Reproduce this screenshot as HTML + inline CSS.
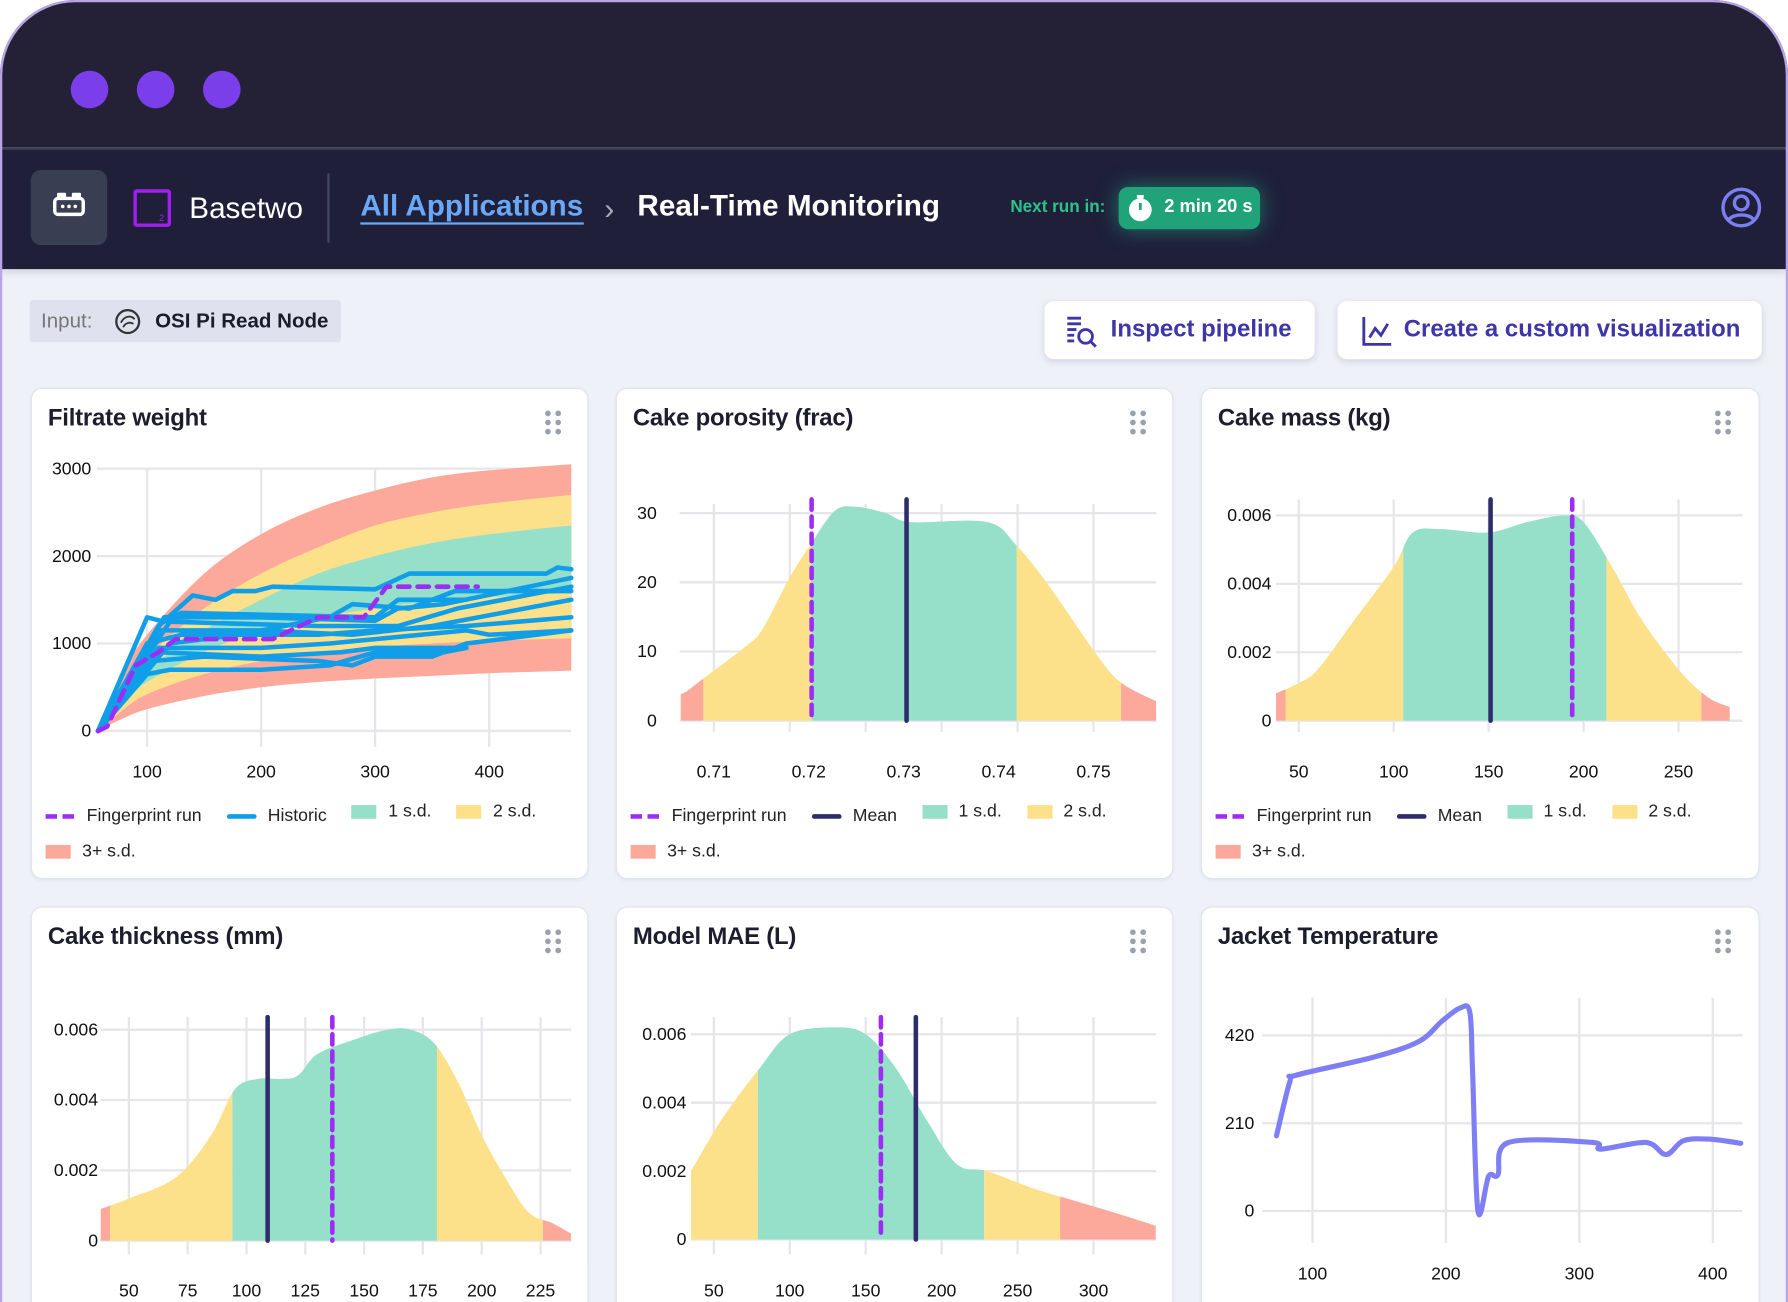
<!DOCTYPE html>
<html><head><meta charset="utf-8">
<style>
*{box-sizing:border-box;margin:0;padding:0}
html,body{width:1788px;height:1302px;overflow:hidden;background:#fff;font-family:"Liberation Sans",sans-serif}
#wrap{position:absolute;left:0;top:0;width:1568px;height:1142px;transform:scale(1.14031);transform-origin:0 0;overflow:hidden}
#frame{position:absolute;left:0;top:0;width:1568px;height:1142px;border-radius:66px 66px 0 0;overflow:hidden;background:#eff1f9}
#frameborder{position:absolute;left:0;top:0;width:1568px;height:1142px;border-radius:66px 66px 0 0;border:2px solid #b8a4e8;border-bottom:none;pointer-events:none}
.abs{position:absolute}
.card{position:absolute;background:#fff;border:1.5px solid #e2e4ec;border-radius:10px;box-shadow:0 1px 3px rgba(40,40,80,.06)}
.ctitle{position:absolute;left:14px;top:14px;font-size:21px;font-weight:bold;color:#1d1d2e;letter-spacing:-.2px}
.drag{position:absolute;width:14px;height:22px}
.drag i{position:absolute;width:5px;height:5px;border-radius:50%;background:#9aa0ad}
.leg{position:absolute;font-size:15.5px;color:#222;white-space:nowrap}
.leg span{display:inline-flex;align-items:center;margin-right:22px}
.sw{display:inline-block;width:22px;height:12px;margin-right:10px}
.ln{display:inline-block;width:26px;height:4px;border-radius:2px;margin-right:10px}
.dash{display:inline-block;width:26px;height:4px;margin-right:10px;background:repeating-linear-gradient(90deg,#9d2cf5 0 10px,transparent 10px 15px)}
svg text{font-family:"Liberation Sans",sans-serif;font-size:15.5px;fill:#111}
</style></head><body>
<div id="wrap">
<div id="frame">
  <div class="abs" style="left:0;top:0;width:1568px;height:129px;background:#242136"></div>
  <div class="abs" style="left:62px;top:62px;width:33px;height:33px;border-radius:50%;background:#7a3eea"></div>
  <div class="abs" style="left:120px;top:62px;width:33px;height:33px;border-radius:50%;background:#7a3eea"></div>
  <div class="abs" style="left:178px;top:62px;width:33px;height:33px;border-radius:50%;background:#7a3eea"></div>
  <div class="abs" style="left:0;top:129px;width:1568px;height:2px;background:#3f4356"></div>
  <div class="abs" style="left:0;top:131px;width:1568px;height:105px;background:#1f1f3a;box-shadow:0 2px 8px rgba(0,0,0,.15)"></div>
  <div class="abs" style="left:27px;top:149px;width:67px;height:66px;border-radius:9px;background:#3a3e52">
    <svg width="67" height="66"><rect x="21" y="25" width="25" height="14" rx="3" fill="none" stroke="#fff" stroke-width="3"/><rect x="23" y="20" width="8" height="6" rx="1" fill="#fff"/><rect x="36" y="20" width="8" height="6" rx="1" fill="#fff"/><circle cx="28" cy="32" r="1.6" fill="#fff"/><circle cx="33.5" cy="32" r="1.6" fill="#fff"/><circle cx="39" cy="32" r="1.6" fill="#fff"/></svg>
  </div>
  <div class="abs" style="left:117px;top:166px;width:33px;height:33px;border:3px solid #a020f0;border-radius:3px"><span style="position:absolute;right:3px;bottom:0;font-size:8px;color:#a020f0">2</span></div>
  <div class="abs" style="left:166px;top:167px;font-size:26px;color:#fff">Basetwo</div>
  <div class="abs" style="left:287px;top:152px;width:2px;height:61px;background:#44475c"></div>
  <div class="abs" style="left:316px;top:165px;font-size:26px;color:#6aa8f5;font-weight:bold;border-bottom:2px solid #6aa8f5;line-height:30px">All Applications</div>
  <div class="abs" style="left:530px;top:168px;font-size:26px;color:#aab;">&#8250;</div>
  <div class="abs" style="left:559px;top:165px;font-size:26px;color:#fff;font-weight:bold;line-height:30px">Real-Time Monitoring</div>
  <div class="abs" style="left:886px;top:173px;font-size:15px;color:#2bc48a;font-weight:bold">Next run in:</div>
  <div class="abs" style="left:981px;top:164px;width:124px;height:37px;border-radius:8px;background:#21a37a;box-shadow:0 0 18px rgba(33,190,140,.55)">
    <svg class="abs" style="left:6px;top:5px" width="28" height="28"><circle cx="13" cy="15" r="10" fill="#fff"/><rect x="10" y="2" width="6" height="3" fill="#fff"/><path d="M13 15V9" stroke="#21a37a" stroke-width="2.5"/></svg>
    <span class="abs" style="left:40px;top:9px;font-size:16px;color:#fff;font-weight:bold">2 min 20 s</span>
  </div>
  <svg class="abs" style="left:1508px;top:163px" width="38" height="38"><circle cx="19" cy="19" r="16" fill="none" stroke="#7b7ff0" stroke-width="3"/><circle cx="19" cy="15" r="6" fill="none" stroke="#7b7ff0" stroke-width="3"/><path d="M8 30c3-6 19-6 22 0" fill="none" stroke="#7b7ff0" stroke-width="3"/></svg>

  <div class="abs" style="left:26px;top:263px;width:273px;height:37px;background:#dfe2ee;border-radius:3px">
    <span class="abs" style="left:10px;top:8px;font-size:18px;color:#777">Input:</span>
    <svg class="abs" style="left:73px;top:6px" width="26" height="26"><circle cx="13" cy="13" r="10" fill="none" stroke="#333" stroke-width="2"/><path d="M7 14c3-6 9-7 12-3M9 18c2-4 6-5 9-3" fill="none" stroke="#333" stroke-width="1.6"/></svg>
    <span class="abs" style="left:110px;top:8px;font-size:18px;color:#1b1b2b;font-weight:bold">OSI Pi Read Node</span>
  </div>
  <div class="abs" style="left:916px;top:264px;width:237px;height:51px;background:#fff;border-radius:8px;box-shadow:0 2px 6px rgba(60,60,100,.18)">
    <svg class="abs" style="left:18px;top:12px" width="30" height="30"><path d="M2 3h12M2 8h12M2 13h8M2 18h6M2 23h6" stroke="#3d35a8" stroke-width="2.5"/><circle cx="18" cy="19" r="6" fill="none" stroke="#3d35a8" stroke-width="2.5"/><path d="M22 23l5 5" stroke="#3d35a8" stroke-width="2.5"/></svg>
    <span class="abs" style="left:58px;top:13px;font-size:21px;color:#3d35a8;font-weight:bold">Inspect pipeline</span>
  </div>
  <div class="abs" style="left:1173px;top:264px;width:372px;height:51px;background:#fff;border-radius:8px;box-shadow:0 2px 6px rgba(60,60,100,.18)">
    <svg class="abs" style="left:20px;top:12px" width="30" height="30"><path d="M3 2v24h24" fill="none" stroke="#3d35a8" stroke-width="2.5"/><path d="M8 20l5-8 5 6 6-10" fill="none" stroke="#3d35a8" stroke-width="2.5"/></svg>
    <span class="abs" style="left:58px;top:13px;font-size:21px;color:#3d35a8;font-weight:bold">Create a custom visualization</span>
  </div>

  <div class="card" style="left:27px;top:340px;width:489px;height:431px"><div class="ctitle">Filtrate weight</div></div>
  <div class="card" style="left:540px;top:340px;width:489px;height:431px"><div class="ctitle">Cake porosity (frac)</div></div>
  <div class="card" style="left:1053px;top:340px;width:490px;height:431px"><div class="ctitle">Cake mass (kg)</div></div>
  <div class="card" style="left:27px;top:795px;width:489px;height:400px"><div class="ctitle">Cake thickness (mm)</div></div>
  <div class="card" style="left:540px;top:795px;width:489px;height:400px"><div class="ctitle">Model MAE (L)</div></div>
  <div class="card" style="left:1053px;top:795px;width:490px;height:400px"><div class="ctitle">Jacket Temperature</div></div>

  <div class="drag" style="left:478px;top:360px"><i style="left:0;top:0"></i><i style="left:9px;top:0"></i><i style="left:0;top:8px"></i><i style="left:9px;top:8px"></i><i style="left:0;top:16px"></i><i style="left:9px;top:16px"></i></div>
  <div class="drag" style="left:991px;top:360px"><i style="left:0;top:0"></i><i style="left:9px;top:0"></i><i style="left:0;top:8px"></i><i style="left:9px;top:8px"></i><i style="left:0;top:16px"></i><i style="left:9px;top:16px"></i></div>
  <div class="drag" style="left:1504px;top:360px"><i style="left:0;top:0"></i><i style="left:9px;top:0"></i><i style="left:0;top:8px"></i><i style="left:9px;top:8px"></i><i style="left:0;top:16px"></i><i style="left:9px;top:16px"></i></div>
  <div class="drag" style="left:478px;top:815px"><i style="left:0;top:0"></i><i style="left:9px;top:0"></i><i style="left:0;top:8px"></i><i style="left:9px;top:8px"></i><i style="left:0;top:16px"></i><i style="left:9px;top:16px"></i></div>
  <div class="drag" style="left:991px;top:815px"><i style="left:0;top:0"></i><i style="left:9px;top:0"></i><i style="left:0;top:8px"></i><i style="left:9px;top:8px"></i><i style="left:0;top:16px"></i><i style="left:9px;top:16px"></i></div>
  <div class="drag" style="left:1504px;top:815px"><i style="left:0;top:0"></i><i style="left:9px;top:0"></i><i style="left:0;top:8px"></i><i style="left:9px;top:8px"></i><i style="left:0;top:16px"></i><i style="left:9px;top:16px"></i></div>

  <div class="leg" style="left:40px;top:703px">
    <span><i class="dash"></i>Fingerprint run</span><span><i class="ln" style="background:#109ee8"></i>Historic</span><span><i class="sw" style="background:#96dfc9"></i>1 s.d.</span><span><i class="sw" style="background:#fde18a"></i>2 s.d.</span><br><span style="margin-top:13px"><i class="sw" style="background:#fca89a"></i>3+ s.d.</span>
  </div>
  <div class="leg" style="left:553px;top:703px">
    <span><i class="dash"></i>Fingerprint run</span><span><i class="ln" style="background:#2e2d6b"></i>Mean</span><span><i class="sw" style="background:#96dfc9"></i>1 s.d.</span><span><i class="sw" style="background:#fde18a"></i>2 s.d.</span><br><span style="margin-top:13px"><i class="sw" style="background:#fca89a"></i>3+ s.d.</span>
  </div>
  <div class="leg" style="left:1066px;top:703px">
    <span><i class="dash"></i>Fingerprint run</span><span><i class="ln" style="background:#2e2d6b"></i>Mean</span><span><i class="sw" style="background:#96dfc9"></i>1 s.d.</span><span><i class="sw" style="background:#fde18a"></i>2 s.d.</span><br><span style="margin-top:13px"><i class="sw" style="background:#fca89a"></i>3+ s.d.</span>
  </div>

  <svg id="charts" class="abs" style="left:0;top:0" width="1568" height="1142"></svg>
</div>
<div id="frameborder"></div>
</div>
<script>
// ---------- Chart 1: Filtrate weight ----------
const fwBandX = [57,75,100,150,200,250,300,350,400,472];
const fwTop3 = [0,600,1100,1800,2250,2550,2750,2900,2980,3050];
const fwTop2 = [0,450,850,1400,1800,2100,2350,2500,2600,2700];
const fwTop1 = [0,350,700,1150,1500,1800,2000,2150,2250,2350];
const fwBot1 = [0,280,560,900,1150,1300,1400,1480,1530,1580];
const fwBot2 = [0,200,420,650,800,900,960,1000,1030,1060];
const fwBot3 = [0,120,250,400,500,560,600,630,660,690];
const fwHistoric = [
 [[57,0],[100,1300],[115,1250],[130,1350],[300,1300],[320,1500],[380,1500]],
 [[57,0],[110,1200],[140,1550],[160,1500],[175,1600],[195,1600],[210,1650],[300,1620],[330,1800],[450,1800],[460,1870],[472,1850]],
 [[57,0],[115,1300],[200,1300],[300,1260],[320,1400],[360,1450],[472,1750]],
 [[57,0],[120,1250],[250,1200],[320,1200],[372,1400],[472,1650]],
 [[57,0],[110,1150],[200,1150],[280,1100],[350,1200],[472,1500]],
 [[57,0],[100,1000],[130,1100],[250,1100],[300,1150],[380,1200],[472,1300]],
 [[57,0],[110,950],[200,950],[260,1000],[300,1050],[380,1150],[400,1100],[472,1150]],
 [[57,0],[110,900],[200,850],[270,900],[300,950],[380,950]],
 [[57,0],[105,800],[150,850],[250,800],[280,750],[300,850],[350,850],[380,1000],[472,1150]],
 [[57,0],[100,650],[120,700],[200,700],[260,750],[300,900],[360,900],[380,950]],
 [[57,0],[120,1000],[180,1100],[260,1300],[280,1450],[330,1400],[370,1600],[472,1600]]
];
const fwFingerprint = [[57,0],[65,50],[90,750],[110,900],[125,1050],[210,1050],[250,1300],[290,1300],[310,1650],[390,1650]];
const fwXTicks = [100,200,300,400];
const fwYTicks = [0,1000,2000,3000];

// ---------- Chart 2: Cake porosity ----------
const poX = [0.7065,0.7072,0.7089,0.7136,0.7152,0.7180,0.7203,0.7228,0.7251,0.7281,0.7308,0.7388,0.7419,0.7453,0.7503,0.7529,0.7566];
const poY = [3.8,4.3,6.1,11.0,13.4,20.7,25.7,30.4,30.9,30.0,28.7,28.7,25.3,19.5,9.6,5.5,2.8];
const poBands = [0.7065,0.7089,0.7203,0.7419,0.7529,0.7566];
const poMean = 0.7303;
const poFingerprint = 0.7203;
const poXTicks = [0.71,0.72,0.73,0.74,0.75];
const poXGrid = [0.71,0.718,0.726,0.734,0.742,0.75];
const poYTicks = [0,10,20,30];

// ---------- Chart 3: Cake mass ----------
const maX = [38,50,60,80,100,110,125,150,170,190,200,215,230,250,265,277];
const maY = [0.0008,0.0011,0.0015,0.003,0.0045,0.0055,0.0056,0.0055,0.0058,0.006,0.0058,0.0045,0.003,0.0015,0.0007,0.0004];
const maBands = [38,43,105,212,262,277];
const maMean = 151;
const maFingerprint = 194;
const maXTicks = [50,100,150,200,250];
const maYTicks = [0,0.002,0.004,0.006];

// ---------- Chart 4: Cake thickness ----------
const thX = [38,50,70,85,95,105,115,122,130,145,160,170,180,190,200,210,220,230,238];
const thY = [0.0009,0.0012,0.0018,0.003,0.0043,0.0046,0.0046,0.0047,0.0053,0.0057,0.006,0.006,0.0056,0.0045,0.003,0.0018,0.0008,0.0005,0.0002];
const thBands = [38,42,94,181,226,238];
const thMean = 109;
const thFingerprint = 136.5;
const thXTicks = [50,75,100,125,150,175,200,225];
const thYTicks = [0,0.002,0.004,0.006];

// ---------- Chart 5: Model MAE ----------
const maeX = [35,55,80,100,130,150,170,190,210,230,260,290,320,341];
const maeY = [0.002,0.0035,0.005,0.006,0.0062,0.006,0.005,0.0035,0.0022,0.002,0.0015,0.0011,0.0007,0.0004];
const maeBands = [35,35,79,228,278,341];
const maeMean = 183;
const maeFingerprint = 160;
const maeXTicks = [50,100,150,200,250,300];
const maeYTicks = [0,0.002,0.004,0.006];

// ---------- Chart 6: Jacket temperature ----------
const jtX = [73,83,88,147,180,197,211,218,220,224,232,239,247,310,316,350,365,378,397,421];
const jtY = [180,309,325,369,406,454,486,474,333,0,83,87,164,164,148,164,135,168,172,162];
const jtXTicks = [100,200,300,400];
const jtYTicks = [0,210,420];

const NS = 'http://www.w3.org/2000/svg';
const svg = document.getElementById('charts');
const COL = {t:'#96dfc9', y:'#fde18a', r:'#fca89a', grid:'#e6e6ea', blue:'#109ee8', fp:'#9d2cf5', mean:'#2e2d6b'};
function lin(d0,d1,r0,r1){return v=>r0+(v-d0)*(r1-r0)/(d1-d0);}
function el(tag,attrs,parent){const e=document.createElementNS(NS,tag);for(const k in attrs)e.setAttribute(k,attrs[k]);(parent||svg).appendChild(e);return e;}
function smooth(p){let d='M'+p[0][0]+','+p[0][1];for(let i=0;i<p.length-1;i++){const p0=p[i-1]||p[i],p1=p[i],p2=p[i+1],p3=p[i+2]||p2;
 const c1=[p1[0]+(p2[0]-p0[0])/6,p1[1]+(p2[1]-p0[1])/6],c2=[p2[0]-(p3[0]-p1[0])/6,p2[1]-(p3[1]-p1[1])/6];
 d+=`C${c1[0]},${c1[1]} ${c2[0]},${c2[1]} ${p2[0]},${p2[1]}`;}return d;}
function fmt(v){return String(v);}
let clipId=0;
function grid(g){
  g.yt.forEach(v=>{const l=el('line',{x1:g.gx0,x2:g.gx1,y1:g.sy(v),y2:g.sy(v),stroke:COL.grid,'stroke-width':2});
    
    const t=el('text',{x:g.ylx,y:g.sy(v)+5,'text-anchor':'end'});t.textContent=fmt(v);
    });
  (g.xg||g.xt).forEach(v=>{const l=el('line',{x1:g.sx(v),x2:g.sx(v),y1:g.gy0,y2:g.gy1,stroke:COL.grid,'stroke-width':2});
    });
  g.xt.forEach(v=>{const t=el('text',{x:g.sx(v),y:g.xly,'text-anchor':'middle'});t.textContent=fmt(v);
    });
}
function density(g,xs,ys,bands,mean,fpv){
  const pts=xs.map((x,i)=>[g.sx(x),g.sy(ys[i])]);
  const d=smooth(pts)+`L${pts[pts.length-1][0]},${g.sy(0)}L${pts[0][0]},${g.sy(0)}Z`;
  const cols=[COL.r,COL.y,COL.t,COL.y,COL.r];
  for(let i=0;i<bands.length-1;i++){
    const id='c'+(clipId++);const cp=el('clipPath',{id});
    el('rect',{x:g.sx(bands[i]),y:0,width:Math.max(0,g.sx(bands[i+1])-g.sx(bands[i])),height:1142},cp);
    const a=el('path',{d,fill:cols[i],'clip-path':`url(#${id})`});
    
  }
  const m=el('line',{x1:g.sx(mean),x2:g.sx(mean),y1:g.ly0,y2:g.sy(0),stroke:COL.mean,'stroke-width':4,'stroke-linecap':'round'});
  
  const f=el('line',{x1:g.sx(fpv),x2:g.sx(fpv),y1:g.ly0,y2:g.sy(0),stroke:COL.fp,'stroke-width':4,'stroke-dasharray':'9 6','stroke-linecap':'round'});
  
}

// Chart 1
(function(){
  const sx=lin(100,400,129,429), sy=lin(0,3000,641,411);
  grid({sx,sy,xt:fwXTicks,yt:fwYTicks,gx0:85,gx1:501,gy0:411,gy1:655,ylx:80,xly:682});
  const band=(up,lo,c,name)=>{const top=fwBandX.map((x,i)=>[sx(x),sy(up[i])]);const bot=fwBandX.map((x,i)=>[sx(x),sy(lo[i])]).reverse();
    const p=el('path',{d:smooth(top)+'L'+smooth(bot).slice(1)+'Z',fill:c});
    };
  band(fwTop3,fwBot3,COL.r,'band-3sd');band(fwTop2,fwBot2,COL.y,'band-2sd');band(fwTop1,fwBot1,COL.t,'band-1sd');
  fwHistoric.forEach(s=>{const p=el('polyline',{points:s.map(q=>sx(q[0])+','+sy(q[1])).join(' '),fill:'none',stroke:COL.blue,'stroke-width':4,'stroke-linejoin':'round','stroke-linecap':'round'});
    });
  const f=el('polyline',{points:fwFingerprint.map(q=>sx(q[0])+','+sy(q[1])).join(' '),fill:'none',stroke:COL.fp,'stroke-width':4,'stroke-dasharray':'10 7','stroke-linecap':'round','stroke-linejoin':'round'});
  
})();
// Chart 2
(function(){
  const sx=lin(0.71,0.75,626,959), sy=lin(0,30,632,450);
  grid({sx,sy,xt:poXTicks,xg:poXGrid,yt:poYTicks,gx0:596,gx1:1014,gy0:442,gy1:642,ylx:576,xly:682});
  density({sx,sy,ly0:438},poX,poY,poBands,poMean,poFingerprint);
})();
// Chart 3
(function(){
  const sx=lin(50,250,1139,1472), sy=lin(0,0.006,632,452);
  grid({sx,sy,xt:maXTicks,yt:maYTicks,gx0:1119,gx1:1528,gy0:438,gy1:642,ylx:1115,xly:682});
  density({sx,sy,ly0:438},maX,maY,maBands,maMean,maFingerprint);
})();
// Chart 4
(function(){
  const sx=lin(50,225,113,474), sy=lin(0,0.006,1088,903);
  grid({sx,sy,xt:thXTicks,yt:thYTicks,gx0:88,gx1:501,gy0:892,gy1:1100,ylx:86,xly:1137});
  density({sx,sy,ly0:892},thX,thY,thBands,thMean,thFingerprint);
})();
// Chart 5
(function(){
  const sx=lin(50,300,626,959), sy=lin(0,0.006,1087,907);
  grid({sx,sy,xt:maeXTicks,yt:maeYTicks,gx0:606,gx1:1014,gy0:892,gy1:1100,ylx:602,xly:1137});
  density({sx,sy,ly0:892},maeX,maeY,maeBands,maeMean,maeFingerprint);
})();
// Chart 6
(function(){
  const sx=lin(100,400,1151,1502), sy=lin(0,420,1062,908);
  grid({sx,sy,xt:jtXTicks,yt:jtYTicks,gx0:1107,gx1:1528,gy0:875,gy1:1090,ylx:1100,xly:1122});
  const pts=jtX.map((x,i)=>[sx(x),sy(jtY[i])]);
  const p=el('path',{d:smooth(pts),fill:'none',stroke:'#7f7ff5','stroke-width':4.5,'stroke-linecap':'round','stroke-linejoin':'round'});
  
})();
</script>
</body></html>
